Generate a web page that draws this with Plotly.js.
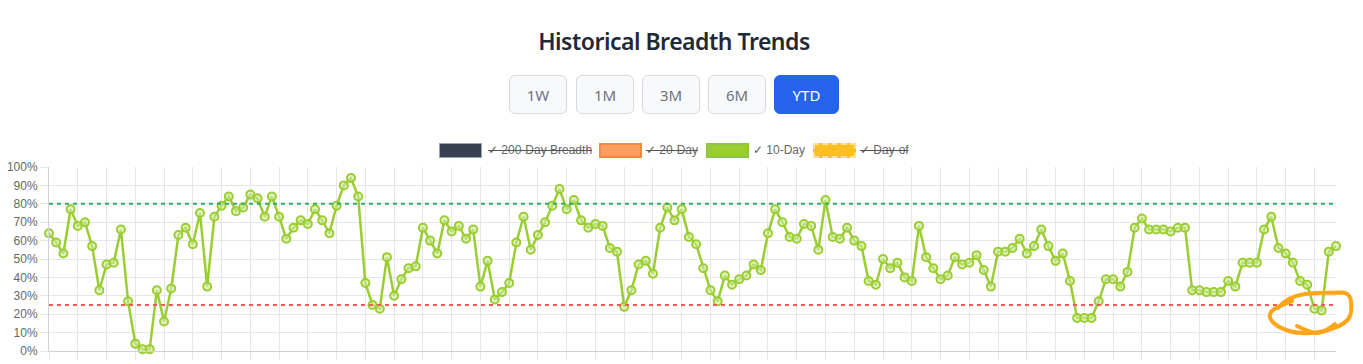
<!DOCTYPE html>
<html>
<head>
<meta charset="utf-8">
<script src="https://cdn.plot.ly/plotly-3.0.1.min.js"></script>
<style>
  html, body { margin: 0; padding: 0; background: #fff; }
  body { width: 1363px; height: 364px; overflow: hidden; position: relative; font-family: "Noto Sans", "Open Sans", sans-serif; }
  #title { position: absolute; left: 0; width: 1348px; top: 28.5px; line-height: 24px; font-size: 23px; letter-spacing: -0.5px; font-weight: 600; color: #1f2937; text-align: center; margin: 0; }
  .btn { position: absolute; top: 75px; height: 39px; box-sizing: border-box; border: 1px solid #d6d9de; border-radius: 6px; background: #f8f9fa; color: #6b7280; font-size: 15px; display: flex; align-items: center; justify-content: center; font-family: "Noto Sans", sans-serif; }
  .btn.active { background: #2563eb; border-color: #2563eb; color: #fff; }
  .lgbox { position: absolute; top: 143px; height: 15px; width: 43px; box-sizing: border-box; }
  .lgtext { position: absolute; top: 143px; height: 15px; line-height: 15px; font-size: 12px; color: #666; font-family: "Liberation Sans", Arial, sans-serif; white-space: nowrap; }
  .off { text-decoration: line-through; text-decoration-color: #555; }
  #chart { position: absolute; left: 0; top: 155px; width: 1363px; height: 209px; }
  #scribble { position: absolute; left: 0; top: 0; width: 1363px; height: 364px; pointer-events: none; }
</style>
</head>
<body>
<div id="title">Historical Breadth Trends</div>
<div class="btn" style="left:509px;width:58px;">1W</div>
<div class="btn" style="left:576px;width:58px;">1M</div>
<div class="btn" style="left:642px;width:58px;">3M</div>
<div class="btn" style="left:708px;width:58px;">6M</div>
<div class="btn active" style="left:774px;width:65px;">YTD</div>

<div class="lgbox" style="left:439px;background:#374151;border:1px solid #9aa3ae;"></div>
<div class="lgtext off" style="left:488px;">✓ 200-Day Breadth</div>
<div class="lgbox" style="left:599px;background:#fb9e5f;border:2px solid #f7873c;"></div>
<div class="lgtext off" style="left:646px;">✓ 20-Day</div>
<div class="lgbox" style="left:706px;background:#9acd32;border:2px solid #8cc63f;"></div>
<div class="lgtext" style="left:753px;">✓ 10-Day</div>
<div class="lgbox" style="left:813px;background:#fbbf24;border:2px dashed #fde68a;"></div>
<div class="lgtext off" style="left:860px;">✓ Day-of</div>

<div id="chart"></div>

<svg id="scribble" viewBox="0 0 1363 364">
  <path d="M1278,308 C1284,300 1292,296 1305,294 C1318,292.5 1332,292.5 1342,292.5 C1351,293 1352,300 1351,312 C1350,321 1342,326 1328,330 C1314,334.5 1297,334 1286,330 C1273,325 1267,318 1271,312 C1274,308 1281,305 1292,301"
        fill="none" stroke="#ffa51a" stroke-width="4" stroke-linecap="round" stroke-linejoin="round"/>
  <path d="M1297,326 C1305,330 1312,333.5 1318,333 C1325,332 1330,328 1335,324"
        fill="none" stroke="#ffa51a" stroke-width="4" stroke-linecap="round"/>
</svg>

<script>
// 10-Day breadth (% of stocks), YTD daily values
const breadth10Day = [
  64,59,53,77,68,70,57,33,47,48,66,27,4,1,1,33,16,34,63,67,58,75,35,73,79,84,
  76,78,85,83,73,84,73,61,67,71,69,77,71,64,79,90,94,84,37,25,23,51,30,39,45,46,67,60,53,71,65,
  68,61,66,35,49,28,32,37,59,73,55,63,70,79,88,77,82,71,67,69,68,56,54,24,33,47,49,42,67,78,
  71,77,62,58,45,33,27,41,36,39,41,47,44,64,77,70,62,61,69,68,55,82,62,61,67,60,57,38,36,50,45,
  48,40,38,68,51,45,39,41,51,47,48,52,44,35,54,54,56,61,53,57,66,57,49,53,38,18,18,18,27,39,
  39,35,43,67,72,66,66,66,65,67,67,33,33,32,32,32,38,35,48,48,48,66,73,56,53,48,38,36,23,22,54,57
];
const dayIndex = breadth10Day.map((_, i) => i);
const yTickVals = [0,10,20,30,40,50,60,70,80,90,100];
const overboughtLevel = 80;
const oversoldLevel = 25;

const trace = {
  type: 'scatter',
  mode: 'lines+markers',
  x: dayIndex,
  y: breadth10Day,
  name: '10-Day',
  cliponaxis: false,
  line: { color: '#9acd32', width: 2.5 },
  marker: { size: 8, color: 'rgba(210,235,160,0.6)', line: { color: '#9acd32', width: 2 } },
  hoverinfo: 'skip'
};

const gridColor = '#e6e6e6';
const layout = {
  width: 1363, height: 209,
  margin: { l: 49, r: 27, t: 12, b: 13, pad: 0 },
  paper_bgcolor: 'rgba(0,0,0,0)',
  plot_bgcolor: '#ffffff',
  showlegend: false,
  xaxis: {
    type: 'linear',
    range: [0, dayIndex.length - 1],
    tick0: 0, dtick: 4,
    showticklabels: false,
    ticks: 'outside', ticklen: 8, tickcolor: gridColor, tickwidth: 1,
    showgrid: true, gridcolor: gridColor, gridwidth: 1,
    zeroline: false,
    showline: true, linecolor: '#d2d2d2', linewidth: 1,
    fixedrange: true
  },
  yaxis: {
    range: [0, 100],
    tickvals: yTickVals,
    ticktext: yTickVals.map(v => v + '%'),
    ticks: 'outside', ticklen: 8, tickcolor: gridColor, tickwidth: 1,
    showgrid: true, gridcolor: gridColor, gridwidth: 1,
    zeroline: false,
    showline: true, linecolor: '#d2d2d2', linewidth: 1,
    tickfont: { family: 'Liberation Sans, Arial, sans-serif', size: 12, color: '#666' },
    fixedrange: true
  },
  shapes: [
    { type: 'line', xref: 'paper', x0: 0, x1: 1, yref: 'y', y0: overboughtLevel, y1: overboughtLevel,
      line: { color: '#2eb067', width: 2, dash: '4px,4px' } },
    { type: 'line', xref: 'paper', x0: 0, x1: 1, yref: 'y', y0: oversoldLevel, y1: oversoldLevel,
      line: { color: '#ef5a5a', width: 2, dash: '4px,4px' } }
  ]
};

Plotly.newPlot('chart', [trace], layout, { displayModeBar: false, staticPlot: true });
</script>
</body>
</html>
